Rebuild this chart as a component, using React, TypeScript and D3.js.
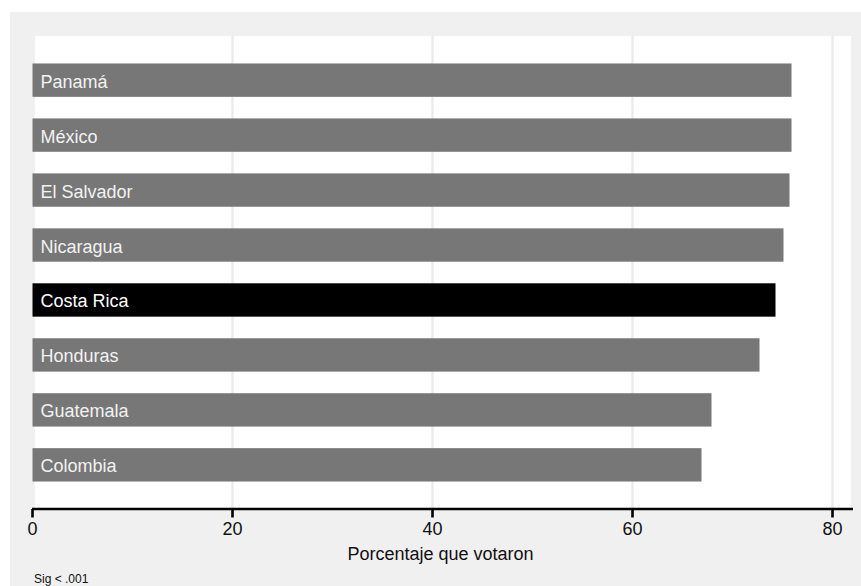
import React from "react";
import * as d3 from "d3";

const countries = ["Panamá", "México", "El Salvador", "Nicaragua", "Costa Rica", "Honduras", "Guatemala", "Colombia"];
const values = [75.9, 75.9, 75.7, 75.1, 74.3, 72.7, 67.9, 66.9];
const highlighted = ["Costa Rica"];
const xTicks = [0, 20, 40, 60, 80];
const xTitle = "Porcentaje que votaron";
const note = "Sig < .001";

const W = 861;
const H = 586;
const FONT = "'Liberation Sans', Arial, Helvetica, sans-serif";

export default function App() {
  const x = d3.scaleLinear().domain([0, 80]).range([32.5, 832.5]);
  const y = d3.scaleBand<string>().domain(countries).range([36, 509]).paddingInner(0.393).paddingOuter(0.5);
  const plotL = 35, plotR = 851, plotT = 36, plotB = 509;

  return (
    <svg width={W} height={H} style={{ position: "absolute", left: 0, top: 0 }} fontFamily={FONT}>
      <rect x={0} y={0} width={W} height={H} fill="#ffffff" />
      <rect x={10} y={12} width={W - 10} height={H - 12} fill="#f0f0f0" />
      <rect x={plotL} y={plotT} width={plotR - plotL} height={plotB - plotT} fill="#ffffff" />
      {xTicks.filter((t) => t > 0).map((t) => (
        <line key={"g" + t} x1={x(t)} x2={x(t)} y1={plotT} y2={plotB} stroke="#ebebeb" strokeWidth={2.5} />
      ))}
      {countries.map((c, i) => {
        const isH = highlighted.includes(c);
        const by = y(c) as number;
        const bh = y.bandwidth();
        return (
          <g key={c}>
            <rect x={x(0)} y={by} width={x(values[i]) - x(0)} height={bh} fill={isH ? "#000000" : "#777777"} />
            <text x={40.5} y={by + bh / 2 + 7.5} fontSize={18} fill={isH ? "#ffffff" : "#f2f2f2"}>
              {c}
            </text>
          </g>
        );
      })}
      <line x1={32} x2={853} y1={plotB} y2={plotB} stroke="#000" strokeWidth={2.6} />
      {xTicks.map((t) => (
        <g key={"t" + t}>
          <line x1={x(t)} x2={x(t)} y1={plotB} y2={plotB + 8.5} stroke="#000" strokeWidth={2.6} />
          <text x={x(t)} y={535} fontSize={18} textAnchor="middle" fill="#111">
            {t}
          </text>
        </g>
      ))}
      <text x={440.5} y={559.5} fontSize={18} textAnchor="middle" fill="#111">
        {xTitle}
      </text>
      <text x={34} y={582.5} fontSize={12} fill="#111">
        {note}
      </text>
    </svg>
  );
}
